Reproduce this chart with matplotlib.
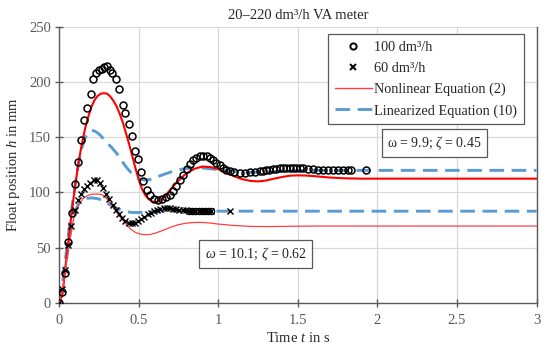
import matplotlib
matplotlib.use("Agg")
import matplotlib.pyplot as plt
import numpy as np
from matplotlib.lines import Line2D

# ---------------- data ----------------
# measured, 100 dm3/h (circles)
t_100 = [0.0, 0.015, 0.035, 0.055, 0.077, 0.098, 0.115, 0.133, 0.153, 0.176, 0.196,
         0.212, 0.229, 0.248, 0.265, 0.281, 0.3, 0.317, 0.332, 0.355, 0.376, 0.397,
         0.413, 0.435, 0.457, 0.474, 0.495, 0.516, 0.526, 0.548, 0.568, 0.594, 0.62,
         0.646, 0.673, 0.694, 0.715, 0.736, 0.757, 0.778, 0.8, 0.82, 0.84, 0.862,
         0.883, 0.9, 0.925, 0.945, 0.966, 0.987, 1.008, 1.03, 1.05, 1.07, 1.1,
         1.134, 1.165, 1.197, 1.228, 1.26, 1.28, 1.30, 1.32, 1.345, 1.365, 1.385,
         1.405, 1.426, 1.447, 1.468, 1.49, 1.51, 1.53, 1.563, 1.594, 1.625, 1.657,
         1.688, 1.72, 1.751, 1.783, 1.815, 1.836, 1.925]
h_100 = [0.0, 10, 26.7, 55.5, 81.3, 107.6, 128, 148, 165.5, 177, 189,
         202.5, 208.5, 211, 212, 214, 214.5, 211, 208.5, 202.5, 193.4, 179.7,
         172.2, 162.5, 151, 137.3, 130.4, 118.2, 110, 102.5, 97.3, 94.3, 93.4,
         94.3, 95.5, 98, 101.5, 106, 111, 116, 121, 125.5, 129, 131,
         132.7, 133.4, 132.7, 131.3, 129, 126.7, 124.5, 122, 120.6, 119, 118.2,
         117.6, 117.6, 118.2, 118.5, 119, 119.5, 120, 120.5, 120.8, 121.3, 121.8,
         122.2, 122.5, 122.5, 122.5, 122.5, 122.2, 121.8, 121.3, 120.8, 120.4, 120.1,
         120, 120, 120, 120, 120, 120, 120]

# measured, 60 dm3/h (crosses)
t_60 = [0.0, 0.015, 0.035, 0.055, 0.075, 0.095, 0.115, 0.135, 0.155, 0.175, 0.195,
        0.215, 0.235, 0.255, 0.275, 0.295, 0.315, 0.335, 0.355, 0.375, 0.395, 0.415,
        0.435, 0.455, 0.475, 0.495, 0.515, 0.535, 0.555, 0.575, 0.595, 0.615, 0.635,
        0.655, 0.675, 0.695, 0.715, 0.735, 0.755, 0.775, 0.795, 0.815, 0.835, 0.855,
        0.875, 0.895, 0.915, 0.935, 0.955, 1.07]
h_60 = [0.0, 12, 30, 52, 70, 84, 93, 99, 103, 106, 109,
        111, 111.5, 108.5, 104, 99, 94, 89, 84, 80, 76.5, 74,
        72.5, 72, 72.5, 74, 75.8, 78, 80, 81.8, 83.3, 84.3, 85,
        85.5, 85.7, 85.5, 85.2, 84.8, 84.4, 84, 83.7, 83.5, 83.4, 83.3,
        83.3, 83.3, 83.3, 83.3, 83.3, 83.3]

# nonlinear equation (2), 100 dm3/h
t_nl100 = [0.0, 0.02, 0.04, 0.06, 0.08, 0.1, 0.12, 0.14, 0.16, 0.18, 0.2, 0.22, 0.24,
           0.26, 0.28, 0.3, 0.32, 0.34, 0.36, 0.38, 0.4, 0.42, 0.44, 0.46, 0.48, 0.5,
           0.52, 0.54, 0.56, 0.58, 0.6, 0.62, 0.64, 0.67, 0.7, 0.75, 0.8, 0.85, 0.9,
           0.95, 1.0, 1.05, 1.1, 1.15, 1.2, 1.25, 1.3, 1.35, 1.4, 1.45, 1.5, 1.55,
           1.6, 1.7, 1.8, 1.9, 2.0, 3.0]
h_nl100 = [0.0, 8, 35, 60, 85, 107, 127, 143, 157, 168, 177, 183.5, 187.5,
           189.5, 190, 189.5, 187, 183, 178, 171, 163, 153, 143, 132, 121, 111,
           103, 97.5, 94, 92, 91.2, 91.5, 93.5, 97.5, 103, 111, 117.5, 121.5, 123.5,
           123, 121, 118, 114.5, 112, 110.5, 110, 110.8, 112.5, 114, 115.2, 115.5, 115.3,
           114.8, 113.5, 112.8, 112.5, 112.5, 112.5]

# nonlinear equation (2), 60 dm3/h
t_nl60 = [0.0, 0.02, 0.04, 0.06, 0.08, 0.1, 0.125, 0.15, 0.175, 0.2, 0.225, 0.25,
          0.275, 0.3, 0.325, 0.35, 0.375, 0.4, 0.425, 0.45, 0.475, 0.5, 0.525, 0.55,
          0.575, 0.6, 0.65, 0.7, 0.75, 0.8, 0.85, 0.9, 0.95, 1.0, 1.1, 1.2, 1.3,
          1.4, 1.6, 3.0]
h_nl60 = [0.0, 12, 32, 52, 70, 82, 90, 94.5, 97, 98.3, 98.5, 98.5,
          97.5, 94, 89, 84, 79, 74.5, 70, 66.5, 64, 62.5, 61.8, 61.6,
          62, 63, 65.5, 68.5, 70.8, 72.2, 72.8, 72.8, 72.2, 71.3, 70, 69.2, 69,
          69.2, 69.5, 69.5]

# linearized equation (10), 100 dm3/h
t_lin100 = [0.0, 0.02, 0.04, 0.06, 0.08, 0.1, 0.12, 0.14, 0.16, 0.18, 0.2, 0.22, 0.24,
            0.26, 0.28, 0.3, 0.33, 0.36, 0.39, 0.42, 0.45, 0.48, 0.51, 0.54, 0.57,
            0.6, 0.65, 0.7, 0.75, 0.8, 0.85, 0.9, 0.95, 1.0, 1.1, 1.2, 1.3, 1.4,
            1.5, 1.6, 3.0]
h_lin100 = [0.0, 18, 42, 66, 88, 108, 126, 140, 149, 154, 156, 155.8, 154,
            151.5, 148, 145, 140.5, 135.5, 129, 123, 118, 114, 111.8, 111.2, 111.8,
            113.3, 116, 118.5, 120.5, 121.8, 122.3, 122.2, 121.5, 120.7, 119.2, 118.3, 118.6, 119.3,
            119.8, 120, 120]

# linearized equation (10), 60 dm3/h
t_lin60 = [0.0, 0.02, 0.04, 0.06, 0.08, 0.1, 0.12, 0.14, 0.16, 0.18, 0.2, 0.22,
           0.25, 0.28, 0.31, 0.34, 0.37, 0.4, 0.43, 0.46, 0.5, 0.55, 0.6, 0.7,
           0.8, 0.9, 1.0, 3.0]
h_lin60 = [0.0, 15, 35, 55, 72, 83, 89.5, 92.5, 94, 94.8, 95, 94.8,
           94, 92, 89.5, 87, 85, 83.5, 82.3, 81.8, 81.8, 82.3, 82.8, 83.3,
           83.4, 83.2, 83, 83]

x_ticks = [0, 0.5, 1, 1.5, 2, 2.5, 3]
x_tick_labels = ["0", "0.5", "1", "1.5", "2", "2.5", "3"]
y_ticks = [0, 50, 100, 150, 200, 250]

title = "20\u2013220 dm\u00b3/h VA meter"
legend_labels = ["100 dm\u00b3/h", "60 dm\u00b3/h", "Nonlinear Equation (2)", "Linearized Equation (10)"]

# ---------------- style ----------------
SERIF = "Liberation Serif"
plt.rcParams["font.family"] = [SERIF, "DejaVu Serif"]
plt.rcParams["mathtext.fontset"] = "custom"
plt.rcParams["mathtext.rm"] = SERIF
plt.rcParams["mathtext.it"] = SERIF + ":italic"

RED = "#FF0000"
RED_THIN = "#FF4040"
BLUE = "#5B9BD5"
GRID = "#D9D9D9"
AXC = "#595959"
DASH = (5, 2.6)

fig = plt.figure(figsize=(5.5, 3.51), dpi=100)
ax = fig.add_axes([0.108, 0.1376, 0.8675, 0.7854])

ax.set_xlim(0, 3)
ax.set_ylim(0, 250)
ax.set_xticks(x_ticks)
ax.set_xticklabels(x_tick_labels)
ax.set_yticks(y_ticks)
ax.grid(True, color=GRID, lw=0.9, zorder=0)
ax.set_axisbelow(True)
for s in ["left", "bottom", "right"]:
    ax.spines[s].set_color(AXC)
    ax.spines[s].set_linewidth(1.0)
ax.spines["top"].set_visible(False)
ax.tick_params(axis="both", direction="inout", length=6, color=AXC,
               labelcolor=AXC, labelsize=10.5, width=1.0)
ax.tick_params(axis="x", pad=5)
ax.tick_params(axis="y", pad=3)

# model lines
ax.plot(t_lin100, h_lin100, color=BLUE, lw=2.1, dashes=DASH, zorder=2)
ax.plot(t_lin60, h_lin60, color=BLUE, lw=2.1, dashes=DASH, zorder=2)
ax.plot(t_nl100, h_nl100, color=RED, lw=1.5, zorder=3)
ax.plot(t_nl60, h_nl60, color=RED_THIN, lw=0.9, zorder=3)

# measurements
ax.plot(t_100, h_100, ls="none", marker="o", ms=5, mfc="none", mec="black", mew=1.1, zorder=4)
ax.plot(t_60, h_60, ls="none", marker="x", ms=4.8, mec="black", mew=1.0, zorder=4)
t60a = np.array(t_60)
h60a = np.array(h_60)
sel = (t60a >= 0.8) & (t60a <= 0.96)
ax.plot(t60a[sel], h60a[sel], ls="none", marker="o", ms=4.5, mfc="none", mec="black", mew=0.9, zorder=4)

ax.set_title(title, fontsize=10.5, color="#262626", pad=6)
ax.set_xlabel("Time $t$ in s", fontsize=10.5, color="#262626", labelpad=3)
ax.set_ylabel("Float position $h$ in mm", fontsize=10.5, color="#262626", labelpad=5)

handles = [
    Line2D([], [], ls="none", marker="o", ms=4.5, mfc="none", mec="black", mew=1.4),
    Line2D([], [], ls="none", marker="x", ms=4.5, mec="black", mew=1.4),
    Line2D([], [], color=RED_THIN, lw=1.0),
    Line2D([], [], color=BLUE, lw=2.1, dashes=DASH),
]
leg = ax.legend(handles, legend_labels, loc="upper right", bbox_to_anchor=(0.973, 0.973),
                fontsize=10.3, frameon=True, fancybox=False, edgecolor=AXC,
                framealpha=1, handlelength=2.6, handletextpad=0.15,
                borderpad=0.45, labelspacing=0.55, borderaxespad=0)
leg.get_frame().set_linewidth(0.9)
for txt in leg.get_texts():
    txt.set_color("#262626")

bbox = dict(boxstyle="square,pad=0.38", fc="white", ec=AXC, lw=0.9)
ax.text(2.36, 144.7, "\u03c9 = 9.9; $\\zeta$ = 0.45", ha="center", va="center",
        fontsize=10, color="#262626", bbox=bbox, zorder=6)
ax.text(1.234, 44, "$\\omega$ = 10.1; $\\zeta$ = 0.62", ha="center", va="center",
        fontsize=10, color="#262626", bbox=bbox, zorder=6)

fig.savefig("out.png", dpi=100)
